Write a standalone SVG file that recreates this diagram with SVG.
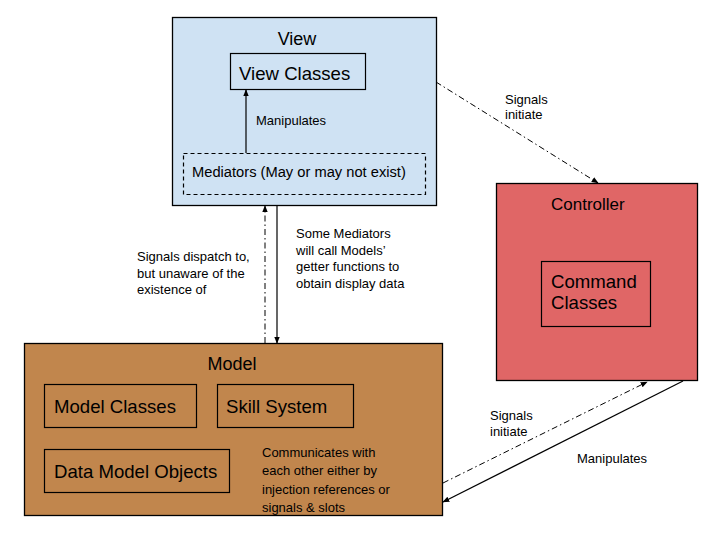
<svg xmlns="http://www.w3.org/2000/svg" width="720" height="540" viewBox="0 0 720 540">
<style>
text{font-family:"Liberation Sans",Arial,sans-serif;fill:#000}
.box{stroke:#000;stroke-width:1.3}
.inner{fill:none;stroke:#000;stroke-width:1.2}
.t18{font-size:18px}
.t185{font-size:18.6px}
.t17{font-size:17px}
.t15{font-size:14.7px}
.t13{font-size:13px}
.solid{fill:none;stroke:#000;stroke-width:1.2}
.dd{fill:none;stroke:#000;stroke-width:1;stroke-dasharray:6,3,1.5,3}
</style>
<defs>
<marker id="ah" viewBox="0 0 10 10" refX="9" refY="5" markerWidth="7" markerHeight="7" orient="auto" markerUnits="userSpaceOnUse">
<path d="M0,1 L10,5 L0,9 Z" fill="#000"/>
</marker>
</defs>
<rect width="720" height="540" fill="#fff"/>
<g id="view">
<rect class="box" x="172.5" y="17.5" width="264" height="188" fill="#cfe2f3"/>
<text class="t18" x="297" y="45" text-anchor="middle">View</text>
<g id="view-classes">
<rect class="inner" x="230.5" y="53.5" width="135" height="36"/>
<text class="t185" x="239" y="80">View Classes</text>
</g>
<g id="mediators">
<rect class="inner" x="183.5" y="153.5" width="242" height="41" stroke-dasharray="4,3"/>
<text class="t15" x="192" y="177">Mediators (May or may not exist)</text>
</g>
</g>
<g id="controller">
<rect class="box" x="496.5" y="183.5" width="201" height="197" fill="#e06666"/>
<text class="t17" x="551" y="210">Controller</text>
<g id="command-classes">
<rect class="inner" x="541.5" y="261.5" width="109" height="65"/>
<text class="t185" x="551" y="288">Command</text>
<text class="t185" x="551" y="309">Classes</text>
</g>
</g>
<g id="model">
<rect class="box" x="24.5" y="343.5" width="418" height="172" fill="#c1864d"/>
<text class="t18" x="232" y="370" text-anchor="middle">Model</text>
<g id="model-classes">
<rect class="inner" x="44.5" y="384.5" width="152" height="43"/>
<text class="t185" x="54" y="413">Model Classes</text>
</g>
<g id="skill-system">
<rect class="inner" x="217.5" y="384.5" width="136" height="43"/>
<text class="t185" x="226" y="413">Skill System</text>
</g>
<g id="data-model-objects">
<rect class="inner" x="44.5" y="449.5" width="185" height="43"/>
<text class="t185" x="54" y="478">Data Model Objects</text>
</g>
<text class="t13" x="262" y="457">Communicates with</text>
<text class="t13" x="262" y="475">each other either by</text>
<text class="t13" x="262" y="494">injection references or</text>
<text class="t13" x="262" y="512">signals &amp; slots</text>
</g>
<g id="connectors">
<line class="solid" x1="246" y1="153" x2="246" y2="90" marker-end="url(#ah)"/>
<text class="t13" x="256" y="125">Manipulates</text>
<line class="dd" x1="436" y1="82" x2="598" y2="183" marker-end="url(#ah)"/>
<text class="t13" x="505" y="104">Signals</text>
<text class="t13" x="505" y="119">initiate</text>
<line class="dd" x1="265" y1="343" x2="265" y2="206" marker-end="url(#ah)"/>
<line class="solid" x1="277" y1="205" x2="277" y2="343" marker-end="url(#ah)"/>
<text class="t13" x="137" y="261">Signals dispatch to,</text>
<text class="t13" x="137" y="278">but unaware of the</text>
<text class="t13" x="137" y="294">existence of</text>
<text class="t13" x="296" y="238">Some Mediators</text>
<text class="t13" x="296" y="255">will call Models’</text>
<text class="t13" x="296" y="271">getter functions to</text>
<text class="t13" x="296" y="288">obtain display data</text>
<line class="dd" x1="443" y1="483" x2="647" y2="382" marker-end="url(#ah)"/>
<text class="t13" x="490" y="420">Signals</text>
<text class="t13" x="490" y="436">initiate</text>
<line class="solid" x1="683" y1="381" x2="443" y2="502" marker-end="url(#ah)"/>
<text class="t13" x="577" y="463">Manipulates</text>
</g>
</svg>
